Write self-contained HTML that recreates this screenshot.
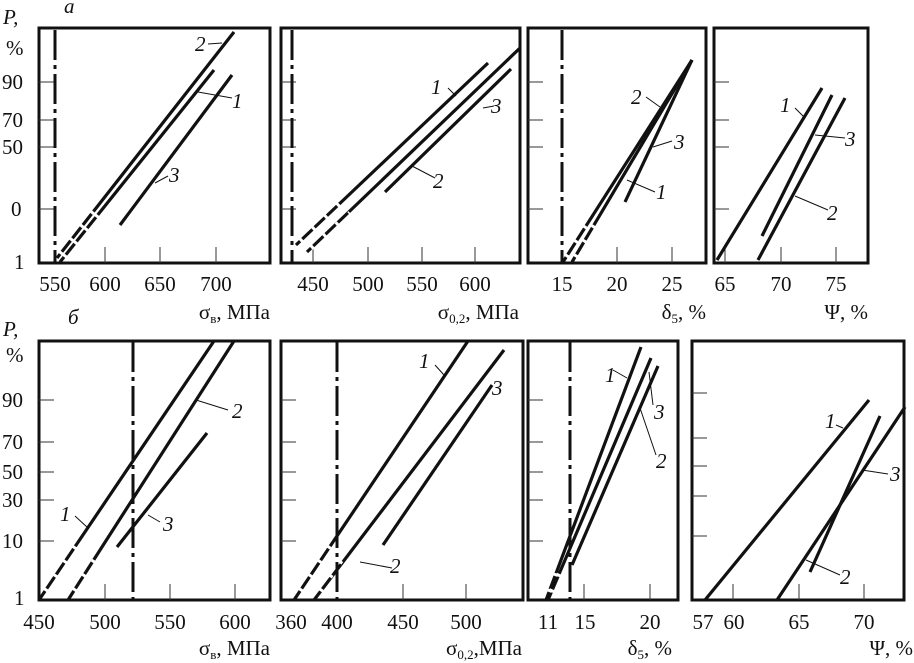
<!DOCTYPE html>
<html><head><meta charset="utf-8"><style>
body{margin:0;background:#fff}
svg{display:block}
text{font-family:"Liberation Serif",serif;fill:#111}
.t{font-size:21px}
.i{font-style:italic;font-size:21px}
</style></head><body>
<svg width="914" height="663" viewBox="0 0 914 663" xmlns="http://www.w3.org/2000/svg">
<g fill="none" stroke="#111" stroke-width="3">
<rect x="39" y="28" width="231" height="235"/>
<rect x="281" y="28" width="239" height="235"/>
<rect x="528" y="28" width="178" height="235"/>
<rect x="714" y="28" width="154" height="235"/>
<rect x="39" y="341" width="231" height="259"/>
<rect x="281" y="341" width="242" height="259"/>
<rect x="528" y="341" width="150" height="259"/>
<rect x="692" y="341" width="212" height="259"/>
</g>
<g stroke="#333" stroke-width="1">
<path d="M39 82h15M39 120h15M39 147h15M39 209h15"/>
<path d="M281 82h15M281 120h15M281 147h15M281 209h15"/>
<path d="M528 82h15M528 120h15M528 147h15M528 209h15"/>
<path d="M714 82h15M714 120h15M714 147h15M714 209h15"/>
<path d="M39 400h15M39 442h15M39 472h15M39 500h15M39 541h15"/>
<path d="M281 400h15M281 442h15M281 472h15M281 500h15M281 541h15"/>
<path d="M528 400h15M528 442h15M528 472h15M528 500h15M528 541h15"/>
<path d="M692 393h15M692 438h15M692 466h15M692 496h15M692 536h15"/>
<path d="M105 247v16M160 247v16M216 247v16"/>
<path d="M313 247v16M368 247v16M422 247v16M475 247v16"/>
<path d="M617 247v16M672 247v16"/>
<path d="M725 247v16M781 247v16M836 247v16"/>
<path d="M105 584v16M170 584v16M235 584v16"/>
<path d="M403 584v16M466 584v16"/>
<path d="M584 584v16M650 584v16"/>
<path d="M733 584v16M799 584v16M864 584v16"/>
</g>
<g stroke="#111" stroke-width="3" stroke-dasharray="30,5,4,5">
<path d="M55 30V263M292 30V263M562 30V263"/>
<path d="M133 342V600M337 342V600M570 342V600"/>
</g>
<g stroke="#111" stroke-width="3.2" fill="none">
<path d="M57 258L234 32"/><path d="M60 262L214 70"/><path d="M120 225L232 75"/>
<path d="M296 245L488 63"/><path d="M307 252L520 48"/><path d="M385 192L511 69"/>
<path d="M563 262L692 60"/><path d="M572 262L692 60"/><path d="M625 202L692 60"/>
<path d="M717 260L822 88"/><path d="M762 236L832 95"/><path d="M758 260L845 98"/>
<path d="M39 600L214 341"/><path d="M68 600L234 341"/><path d="M117 547L207 433"/>
<path d="M294 600L468 341"/><path d="M314 600L504 350"/><path d="M383 545L492 385"/>
<path d="M546 600L641 347"/><path d="M548 600L651 358"/><path d="M572 565L658 366"/>
<path d="M705 600L869 400"/><path d="M777 600L905 407"/><path d="M810 572L880 416"/>
</g>
<g stroke="#fff" stroke-width="5" stroke-dasharray="3,14" fill="none">
<path d="M60 254L95 210"/><path d="M64 257L98 214"/>
<path d="M300 241L340 203"/><path d="M311 248L350 213"/>
<path d="M566 257L590 220"/><path d="M575 257L598 220"/>
<path d="M45 591L76 545"/><path d="M74 591L100 552"/>
<path d="M300 591L330 545"/><path d="M320 591L345 555"/>
<path d="M549 592L560 562"/><path d="M551 592L563 565"/>
</g>
<g stroke="#111" stroke-width="1">
<path d="M208 44L222 43M198 92L232 98M155 183L168 176"/>
<path d="M448 88L456 96M483 108L494 106M412 166L435 178"/>
<path d="M646 97L660 107M653 147L672 141M627 180L655 192"/>
<path d="M795 108L804 117M815 135L845 138M795 196L828 210"/>
<path d="M196 400L228 410M75 516L88 528M148 515L160 522"/>
<path d="M435 365L444 375M360 562L392 568"/>
<path d="M613 370L627 378M649 372L653 405M640 408L656 455"/>
<path d="M836 425L843 428M862 470L888 474M806 560L840 575"/>
</g>
<g class="i">
<text x="195" y="51">2</text><text x="232" y="108">1</text><text x="169" y="182">3</text>
<text x="431" y="94">1</text><text x="491" y="113">3</text><text x="433" y="188">2</text>
<text x="631" y="104">2</text><text x="674" y="149">3</text><text x="656" y="199">1</text>
<text x="780" y="112">1</text><text x="845" y="146">3</text><text x="827" y="220">2</text>
<text x="232" y="418">2</text><text x="60" y="521">1</text><text x="163" y="531">3</text>
<text x="419" y="368">1</text><text x="492" y="395">3</text><text x="390" y="573">2</text>
<text x="605" y="382">1</text><text x="654" y="419">3</text><text x="656" y="468">2</text>
<text x="825" y="428">1</text><text x="890" y="481">3</text><text x="840" y="584">2</text>
<text x="64" y="13">а</text><text x="68" y="324">б</text>
<text x="3" y="24">P,</text><text x="3" y="336">P,</text>
</g>
<g class="t">
<text x="6" y="55">%</text><text x="6" y="362">%</text>
<text x="2" y="89">90</text><text x="2" y="127">70</text><text x="2" y="154">50</text><text x="11" y="216">0</text><text x="14" y="269">1</text>
<text x="2" y="407">90</text><text x="2" y="449">70</text><text x="2" y="479">50</text><text x="2" y="507">30</text><text x="2" y="548">10</text><text x="14" y="605">1</text>
<g text-anchor="middle">
<text x="55" y="291">550</text><text x="105" y="291">600</text><text x="160" y="291">650</text><text x="216" y="291">700</text>
<text x="313" y="291">450</text><text x="368" y="291">500</text><text x="422" y="291">550</text><text x="475" y="291">600</text>
<text x="562" y="291">15</text><text x="617" y="291">20</text><text x="672" y="291">25</text>
<text x="725" y="291">65</text><text x="781" y="291">70</text><text x="836" y="291">75</text>
<text x="39" y="629">450</text><text x="105" y="629">500</text><text x="170" y="629">550</text><text x="235" y="629">600</text>
<text x="291" y="629">360</text><text x="337" y="629">400</text><text x="403" y="629">450</text><text x="466" y="629">500</text>
<text x="548" y="629">11</text><text x="585" y="629">15</text><text x="650" y="629">20</text>
<text x="703" y="629">57</text><text x="734" y="629">60</text><text x="799" y="629">65</text><text x="864" y="629">70</text>
</g>
<g text-anchor="end">
<text x="270" y="319">σ<tspan font-size="13" dy="4">в</tspan><tspan dy="-4">,  МПа</tspan></text>
<text x="519" y="319">σ<tspan font-size="13" dy="4">0,2</tspan><tspan dy="-4">,  МПа</tspan></text>
<text x="706" y="319">δ<tspan font-size="13" dy="4">5</tspan><tspan dy="-4">,  %</tspan></text>
<text x="868" y="319">Ψ,  %</text>
<text x="270" y="655">σ<tspan font-size="13" dy="4">в</tspan><tspan dy="-4">,  МПа</tspan></text>
<text x="522" y="655">σ<tspan font-size="13" dy="4">0,2</tspan><tspan dy="-4">,МПа</tspan></text>
<text x="672" y="655">δ<tspan font-size="13" dy="4">5</tspan><tspan dy="-4">,  %</tspan></text>
<text x="913" y="655">Ψ,  %</text>
</g>
</g>
</svg>
</body></html>
